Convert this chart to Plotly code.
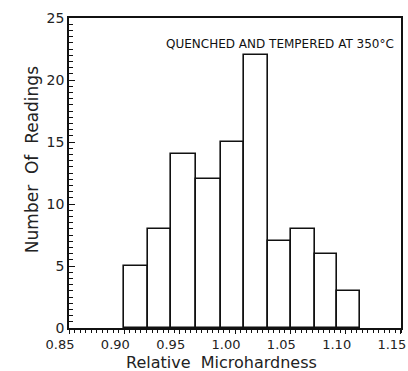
import plotly.graph_objects as go

# Bin edges (relative microhardness) and counts
bin_edges = [0.900, 0.921, 0.942, 0.965, 0.987, 1.008, 1.030, 1.051, 1.072, 1.092, 1.113]
counts = [5, 8, 14, 12, 15, 22, 7, 8, 6, 3]
x_ticks = [0.85, 0.90, 0.95, 1.00, 1.05, 1.10, 1.1499]
x_ticklabels = ["0.85", "0.90", "0.95", "1.00", "1.05", "1.10", "1.15"]
y_ticks = [0, 5, 10, 15, 20, 25]

centers = [(a + b) / 2 for a, b in zip(bin_edges[:-1], bin_edges[1:])]
widths = [b - a for a, b in zip(bin_edges[:-1], bin_edges[1:])]

fig = go.Figure()
fig.add_trace(go.Bar(
    x=centers, y=counts, width=widths,
    marker=dict(color="white", line=dict(color="#111", width=1.6)),
    showlegend=False,
))

font_family = "DejaVu Sans, sans-serif"
fig.update_layout(
    width=408, height=371,
    margin=dict(l=69, r=7, t=18, b=43),
    paper_bgcolor="white", plot_bgcolor="white",
    font=dict(family=font_family, color="#222"),
    bargap=0,
    annotations=[
        dict(text="QUENCHED AND TEMPERED AT 350°C",
             x=0.985, y=0.915, xref="paper", yref="paper",
             xanchor="right", yanchor="middle", showarrow=False,
             font=dict(size=12, color="#111", family=font_family)),
        dict(text="Relative\u00a0 Microhardness",
             x=0.458, y=-0.112, xref="paper", yref="paper",
             xanchor="center", yanchor="middle", showarrow=False,
             font=dict(size=16, color="#222", family=font_family)),
        dict(text="Number\u00a0 Of\u00a0 Readings", textangle=-90,
             x=-0.111, y=0.542, xref="paper", yref="paper",
             xanchor="center", yanchor="middle", showarrow=False,
             font=dict(size=17, color="#222", family=font_family)),
    ],
)
fig.update_xaxes(
    range=[0.85, 1.15], tickvals=x_ticks, ticktext=x_ticklabels,
    showline=True, linecolor="#111", linewidth=1.6, mirror=True,
    ticks="outside", ticklen=4, tickcolor="#111", tickwidth=1.2,
    minor=dict(dtick=0.005, ticks="outside", ticklen=3, tickcolor="#111", tickwidth=1),
    showgrid=False, zeroline=False, automargin=False,
    tickfont=dict(size=13), ticklabelshift=-9, ticklabelstandoff=0,
    ticklabeloverflow="allow",
)
fig.update_yaxes(
    range=[0, 25], tickvals=y_ticks,
    showline=True, linecolor="#111", linewidth=1.6, mirror=True,
    ticks="inside", ticklen=6, tickcolor="#111", tickwidth=1.2,
    minor=dict(dtick=0.5, ticks="inside", ticklen=4, tickcolor="#111", tickwidth=1),
    showgrid=False, zeroline=False, automargin=False,
    tickfont=dict(size=14),
)

fig.write_html("out.html")
